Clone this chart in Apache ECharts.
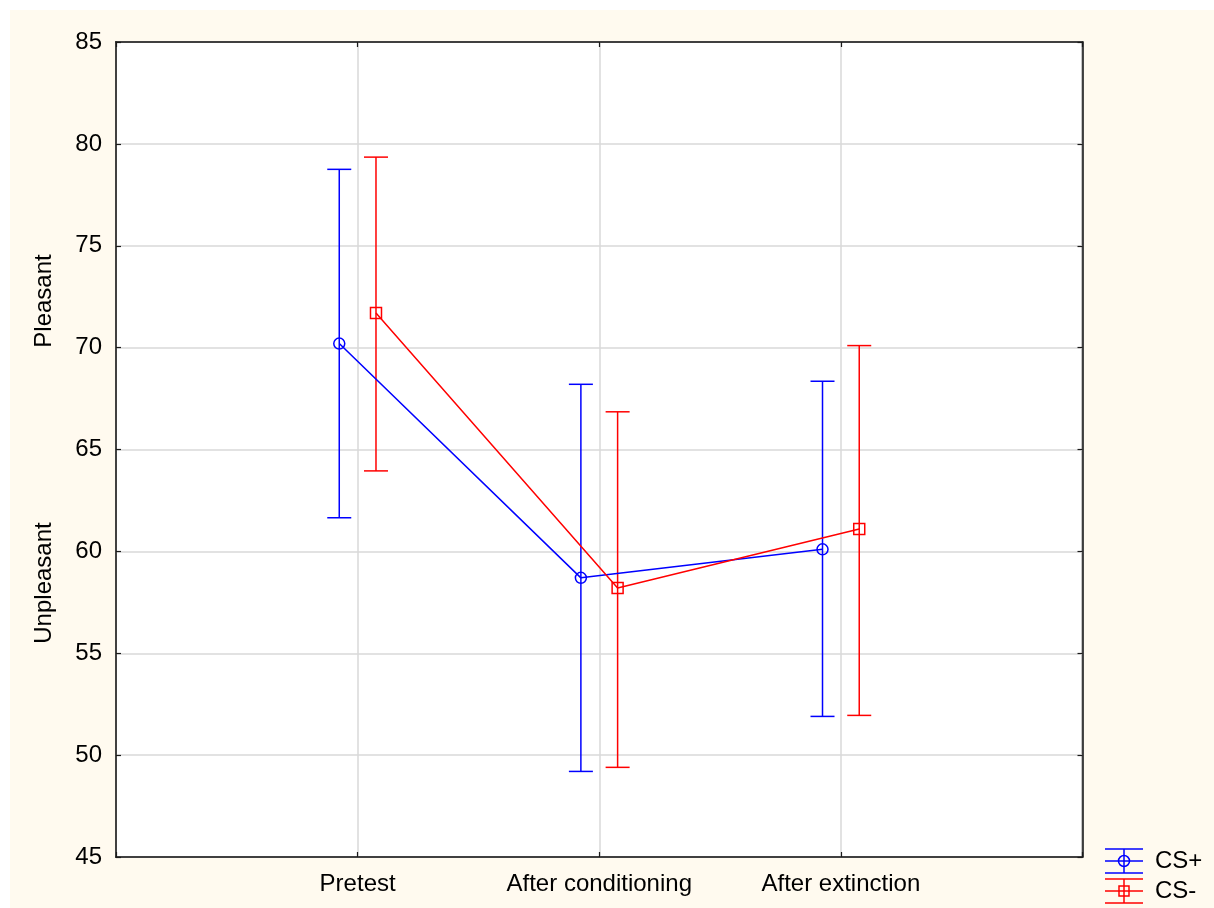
<!DOCTYPE html>
<html>
<head>
<meta charset="utf-8">
<script src="https://cdn.jsdelivr.net/npm/echarts@6/dist/echarts.min.js"></script>
<style>
html,body{margin:0;padding:0;background:#fff;}
#chart{width:1214px;height:908px;}
</style>
</head>
<body>
<div id="chart"></div>
<script>
const categories = ['Pretest', 'After conditioning', 'After extinction'];
const csPlusMean = [70.2, 58.7, 60.1];
const csPlusLow = [61.65, 49.2, 51.9];
const csPlusHigh = [78.75, 68.2, 68.35];
const csMinusMean = [71.7, 58.2, 61.1];
const csMinusLow = [63.95, 49.4, 51.95];
const csMinusHigh = [79.35, 66.85, 70.1];
const yMin = 45, yMax = 85, yStep = 5;
const seriesNames = ['CS+', 'CS-'];

const BLUE = '#0000ff', RED = '#ff0000';
const FONT = 'Arial, "Liberation Sans", sans-serif';
const OFF = 0.076;

function pts(means, off) { return means.map((m, i) => [i + 1 + off, m]); }
function bars(lo, hi, off) { return lo.map((l, i) => [i + 1 + off, l, hi[i]]); }

function errRender(color) {
  return function (params, api) {
    const x = api.value(0);
    const a = api.coord([x, api.value(1)]);
    const b = api.coord([x, api.value(2)]);
    const w = 12;
    const st = { stroke: color, lineWidth: 1.5 };
    return {
      type: 'group',
      children: [
        { type: 'line', shape: { x1: a[0], y1: a[1], x2: b[0], y2: b[1] }, style: st },
        { type: 'line', shape: { x1: a[0] - w, y1: a[1], x2: a[0] + w, y2: a[1] }, style: st },
        { type: 'line', shape: { x1: b[0] - w, y1: b[1], x2: b[0] + w, y2: b[1] }, style: st }
      ]
    };
  };
}

function legendItem(y, color, shape, label) {
  const st = { stroke: color, lineWidth: 1.5 };
  const cx = 1124;
  const marker = shape === 'circle'
    ? { type: 'circle', shape: { cx: cx, cy: y, r: 5.5 }, style: { stroke: color, fill: 'none', lineWidth: 1.5 } }
    : { type: 'rect', shape: { x: cx - 5, y: y - 5, width: 10, height: 10 }, style: { stroke: color, fill: 'none', lineWidth: 1.5 } };
  return [
    { type: 'line', shape: { x1: 1105, y1: y, x2: 1143, y2: y }, style: st },
    { type: 'line', shape: { x1: 1105, y1: y - 12, x2: 1143, y2: y - 12 }, style: st },
    { type: 'line', shape: { x1: 1105, y1: y + 12, x2: 1143, y2: y + 12 }, style: st },
    { type: 'line', shape: { x1: cx, y1: y - 12, x2: cx, y2: y + 12 }, style: st },
    marker,
    { type: 'text', x: 1155, y: y, style: { text: label, font: '24px ' + FONT, fill: '#000', textVerticalAlign: 'middle' } }
  ];
}

const chart = echarts.init(document.getElementById('chart'), null, { renderer: 'canvas' });
const tickCfg = { show: true, inside: true, length: 5, lineStyle: { color: '#1a1a1a', width: 1.2 } };
const axisLineCfg = { show: true, onZero: false, lineStyle: { color: '#1a1a1a', width: 1.5 } };
const option = {
  backgroundColor: '#ffffff',
  animation: false,
  graphic: [
    { type: 'rect', z: -100, silent: true, shape: { x: 10, y: 10, width: 1204, height: 898 }, style: { fill: '#fffaef' } },
    { type: 'text', x: 44, y: 301, rotation: Math.PI / 2, style: { text: 'Pleasant', font: '24px ' + FONT, fill: '#000', textAlign: 'center', textVerticalAlign: 'middle' } },
    { type: 'text', x: 44, y: 583, rotation: Math.PI / 2, style: { text: 'Unpleasant', font: '24px ' + FONT, fill: '#000', textAlign: 'center', textVerticalAlign: 'middle' } }
  ].concat(legendItem(861, BLUE, 'circle', seriesNames[0]), legendItem(891, RED, 'rect', seriesNames[1])),
  grid: { left: 116, top: 42, right: 131.5, bottom: 51, show: true, backgroundColor: '#ffffff', borderColor: '#1a1a1a', borderWidth: 1.5 },
  xAxis: [
    {
      type: 'value', min: 0, max: 4, interval: 1, position: 'bottom',
      axisLine: axisLineCfg,
      axisTick: tickCfg,
      splitLine: { show: true, lineStyle: { color: '#d9d9d9', width: 1.5 } },
      axisLabel: { margin: 15, fontSize: 24, fontFamily: FONT, color: '#000', formatter: v => categories[v - 1] || '' }
    },
    {
      type: 'value', min: 0, max: 4, interval: 1, position: 'top',
      axisLine: axisLineCfg,
      axisTick: tickCfg,
      splitLine: { show: false }, axisLabel: { show: false }
    }
  ],
  yAxis: [
    {
      type: 'value', min: yMin, max: yMax, interval: yStep, position: 'left',
      axisLine: axisLineCfg,
      axisTick: tickCfg,
      splitLine: { show: true, lineStyle: { color: '#d9d9d9', width: 1.5 } },
      axisLabel: { margin: 14, fontSize: 24, fontFamily: FONT, color: '#000' }
    },
    {
      type: 'value', min: yMin, max: yMax, interval: yStep, position: 'right',
      axisLine: axisLineCfg,
      axisTick: tickCfg,
      splitLine: { show: false }, axisLabel: { show: false }
    }
  ],
  series: [
    { type: 'custom', name: 'CS+ err', renderItem: errRender(BLUE), data: bars(csPlusLow, csPlusHigh, -OFF), z: 2, encode: { x: 0, y: [1, 2] } },
    { type: 'custom', name: 'CS- err', renderItem: errRender(RED), data: bars(csMinusLow, csMinusHigh, OFF), z: 2, encode: { x: 0, y: [1, 2] } },
    {
      type: 'line', name: seriesNames[0], data: pts(csPlusMean, -OFF), z: 3,
      symbol: 'circle', symbolSize: 11, color: BLUE,
      lineStyle: { color: BLUE, width: 1.5 },
      itemStyle: { color: 'rgba(0,0,0,0)', borderColor: BLUE, borderWidth: 1.5 }
    },
    {
      type: 'line', name: seriesNames[1], data: pts(csMinusMean, OFF), z: 3,
      symbol: 'rect', symbolSize: 11, color: RED,
      lineStyle: { color: RED, width: 1.5 },
      itemStyle: { color: 'rgba(0,0,0,0)', borderColor: RED, borderWidth: 1.5 }
    }
  ]
};
chart.setOption(option);
</script>
</body>
</html>
